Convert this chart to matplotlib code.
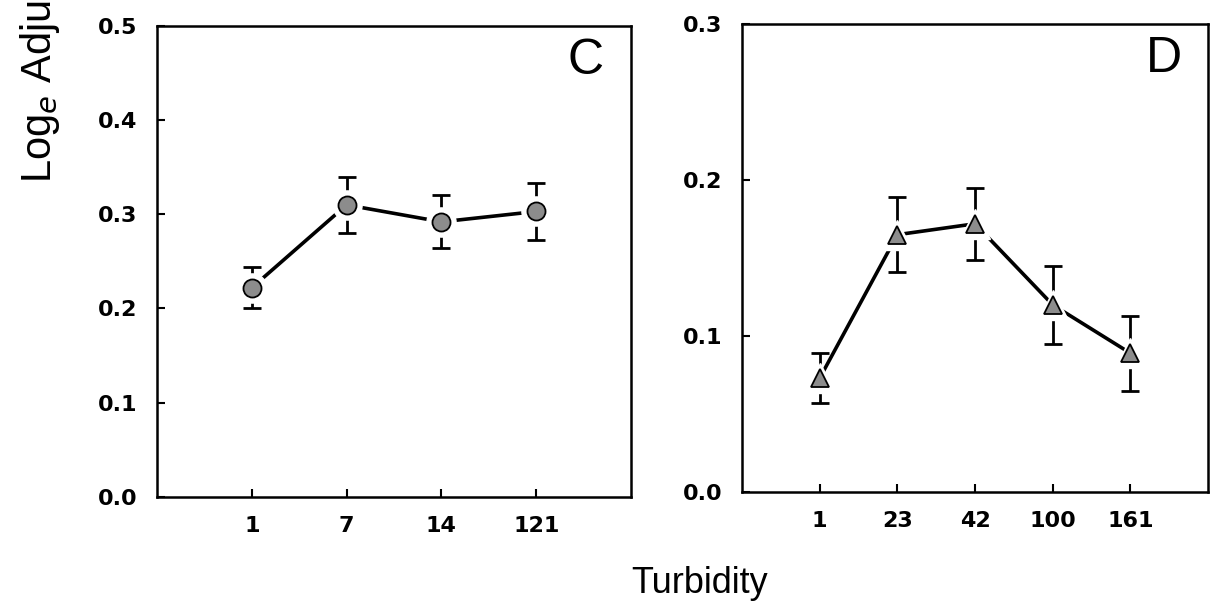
import matplotlib
matplotlib.use("Agg")
import matplotlib.pyplot as plt
import numpy as np

# panel C
turb_c = ["1", "7", "14", "121"]
growth_c = [0.222, 0.310, 0.292, 0.303]
err_c = [0.022, 0.030, 0.028, 0.030]

# panel D
turb_d = ["1", "23", "42", "100", "161"]
growth_d = [0.073, 0.165, 0.172, 0.120, 0.089]
err_d = [0.016, 0.024, 0.023, 0.025, 0.024]

plt.rcParams["font.family"] = ["Liberation Sans", "DejaVu Sans"]

fig = plt.figure(figsize=(12.17, 6.03), dpi=100)
axC = fig.add_axes([0.129, 0.176, 0.3895, 0.781])
axD = fig.add_axes([0.6097, 0.184, 0.383, 0.776])

def panel(ax, labels, vals, errs, marker, ymax, letter):
    x = np.arange(1, len(labels) + 1)
    ax.plot(x, vals, color="black", lw=2.6, zorder=2)
    ax.errorbar(x, vals, yerr=errs, fmt="none", ecolor="black", elinewidth=2.0,
                capsize=6.5, capthick=2.0, zorder=3)
    # white halo so the line and bars stop short of each marker
    ax.plot(x, vals, ls="none", marker=marker, ms=21, mfc="white", mec="white", zorder=4)
    ax.plot(x, vals, ls="none", marker=marker, ms=13, mfc="#8c8c8c", mec="black",
            mew=1.3, zorder=5)
    ax.set_xlim(0, len(labels) + 1)
    ax.set_ylim(0, ymax)
    ax.set_xticks(x)
    ax.set_xticklabels(labels)
    ax.set_yticks(np.round(np.arange(0, ymax + 0.001, 0.1), 1))
    ax.yaxis.set_major_formatter(matplotlib.ticker.FormatStrFormatter("%.1f"))
    ax.tick_params(direction="in", length=6, width=1.5, pad=14, labelsize=16)
    for lab in ax.get_xticklabels() + ax.get_yticklabels():
        lab.set_family("DejaVu Sans")
        lab.set_fontweight("bold")
    for sp in ax.spines.values():
        sp.set_linewidth(1.8)
    ax.text(0.905, 0.925, letter, transform=ax.transAxes, fontsize=36,
            ha="center", va="center")

panel(axC, turb_c, growth_c, err_c, "o", 0.5, "C")
panel(axD, turb_d, growth_d, err_d, "^", 0.3, "D")

fig.text(0.575, 0.033, "Turbidity", fontsize=26, ha="center", va="center")
fig.text(0.033, 0.697, "Log$_e$ Adjusted Growth", fontsize=30, rotation=90,
         rotation_mode="anchor", ha="left", va="center")

fig.savefig("out.png", dpi=100)
